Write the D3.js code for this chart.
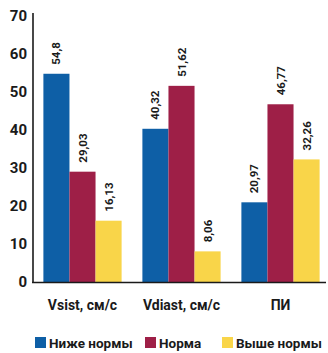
<!DOCTYPE html>
<html><head><meta charset="utf-8">
<script src="https://cdn.jsdelivr.net/npm/d3@7"></script>
<style>
html,body{margin:0;padding:0;background:#fff;}
svg{display:block;font-family:"Roboto","DejaVu Sans",sans-serif;}
</style></head>
<body>
<svg id="c" width="328" height="353"></svg>
<script>
const categories = ["Vsist, см/с", "Vdiast, см/с", "ПИ"];
const seriesNames = ["Ниже нормы", "Норма", "Выше нормы"];
const belowNorm = [54.8, 40.32, 20.97];
const norm = [29.03, 51.62, 46.77];
const aboveNorm = [16.13, 8.06, 32.26];
const yTicks = [0, 10, 20, 30, 40, 50, 60, 70];
const colors = ["#0e5fa6", "#9e1f47", "#f9d549"];

const series = [belowNorm, norm, aboveNorm];
const svg = d3.select("#c");
const x0 = d3.scaleBand().domain(categories).range([33, 330]).paddingInner(0.21).paddingOuter(0.105);
const x1 = d3.scaleBand().domain(seriesNames).range([0, x0.bandwidth()]);
const y = d3.scaleLinear().domain([0, 70]).range([282, 16]);
const fmt = v => String(v).replace(".", ",");

// bars
categories.forEach((c, ci) => {
  const g = svg.append("g").attr("transform", `translate(${x0(c)},0)`);
  seriesNames.forEach((s, si) => {
    const v = series[si][ci];
    g.append("rect")
      .attr("x", x1(s)).attr("width", x1.bandwidth())
      .attr("y", y(v)).attr("height", y(0) - y(v))
      .attr("fill", colors[si]);
    const cx = x1(s) + x1.bandwidth() / 2;
    g.append("text")
      .attr("transform", `translate(${cx + 4},${y(v) - 9}) rotate(-90)`)
      .attr("font-size", 11.5).attr("font-weight", 700).attr("fill", "#1a1a1a")
      .text(fmt(v));
  });
});

// y axis
const yAxis = d3.axisLeft(y).tickValues(yTicks).tickSize(0).tickPadding(6);
const ga = svg.append("g").attr("transform", "translate(33,0)").call(yAxis);
ga.select(".domain").remove();
ga.selectAll("text").attr("font-size", 15).attr("font-weight", 700).attr("fill", "#1a1a1a")
  .attr("font-family", "Roboto, sans-serif");
svg.append("line").attr("x1", 33).attr("x2", 33).attr("y1", 13).attr("y2", 283)
  .attr("stroke", "#1a1a1a").attr("stroke-width", 1.6);

// x axis
const xAxis = d3.axisBottom(x0).tickSize(0).tickPadding(18);
const gx = svg.append("g").attr("transform", "translate(0,282)").call(xAxis);
gx.select(".domain").remove();
gx.selectAll("text").attr("font-size", 14).attr("font-weight", 700).attr("fill", "#1a1a1a")
  .attr("font-family", "Roboto, sans-serif");
svg.append("line").attr("x1", 32).attr("x2", 326).attr("y1", 282.5).attr("y2", 282.5)
  .attr("stroke", "#1a1a1a").attr("stroke-width", 1.6);

// legend
const legX = [35, 145, 222];
seriesNames.forEach((s, i) => {
  const lg = svg.append("g").attr("transform", `translate(${legX[i]},337)`);
  lg.append("rect").attr("width", 11).attr("height", 11).attr("fill", colors[i]);
  lg.append("text").attr("x", 14).attr("y", 10.5)
    .attr("font-size", 13.5).attr("font-weight", 700).attr("fill", "#1a1a1a")
    .text(s);
});
</script>
</body></html>
